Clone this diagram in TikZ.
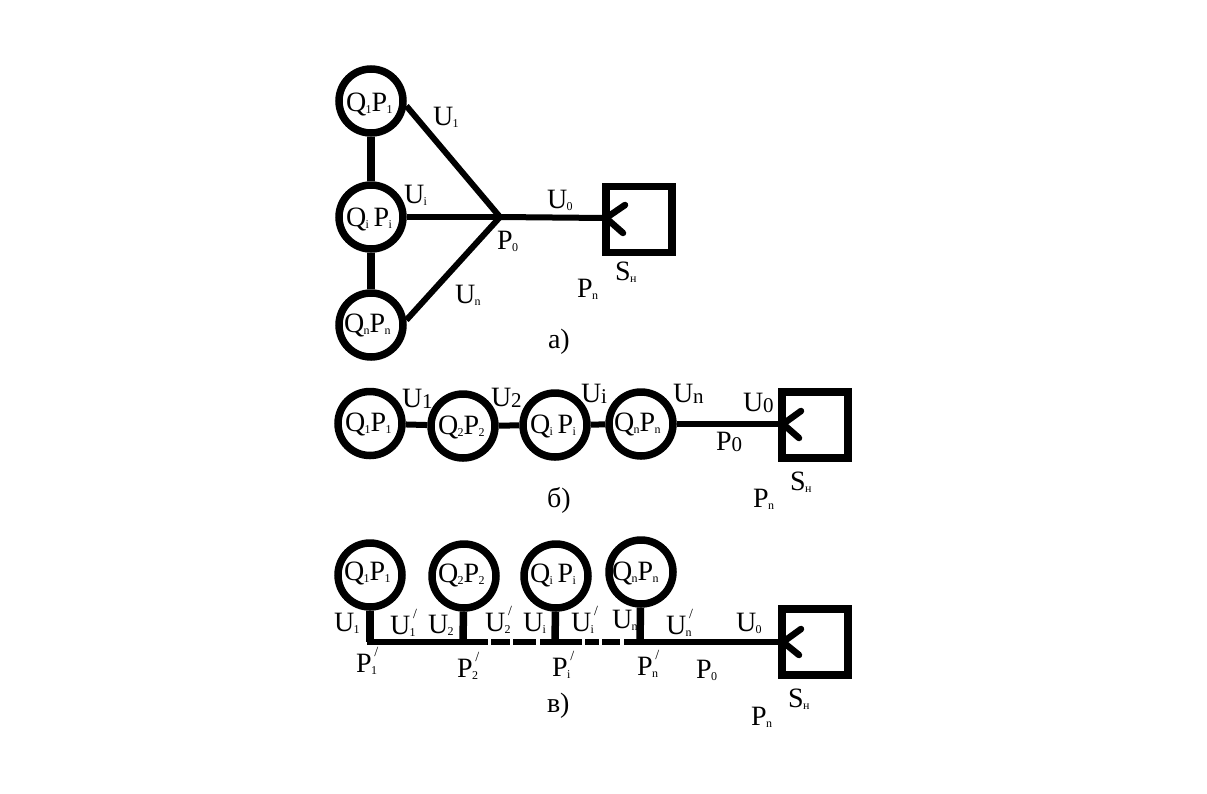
\documentclass[tikz,border=0pt]{standalone}
\usepackage{fontspec}
\setmainfont{Liberation Serif}
\newcommand\sbx[1]{\kern-.02em\raisebox{-.09em}{\fontsize{12}{12}\selectfont #1}}
\newcommand\sby[1]{\raisebox{-.06em}{\fontsize{21}{21}\selectfont #1}}
\newcommand\prx[1]{\rlap{\raisebox{.55em}{\kern.1em\fontsize{14}{14}\selectfont /}}\sbx{#1}}
\newcommand\lab[4]{\node[lbl] (#1) at (#2,#3) {#4};}
\tikzset{
  lbl/.style={anchor=base west,inner sep=0pt,outer sep=0pt,font=\fontsize{28}{28}\selectfont},
  gen/.style={circle,draw=black,line width=7.5pt,minimum size=64pt,inner sep=0pt,fill=white},
  load/.style={rectangle,draw=black,line width=7.5pt,minimum size=66pt,inner sep=0pt},
  wire/.style={line width=6pt,black},
  tick/.style={line width=6.5pt,black,line cap=round},
  thickwire/.style={line width=7.5pt,black}
}
\begin{document}
\begin{tikzpicture}[x=1pt,y=-1pt]
\useasboundingbox (0,0) rectangle (1207,793);
% --- a ---
\node[gen] (a1) at (371,101) {};
\node[gen] (a2) at (371,217) {};
\node[gen] (a3) at (371,325) {};
\node[load] (as) at (639,219.5) {};
\coordinate (aj) at (500,217);
\coordinate (at) at (606,218);
\coordinate (au) at (625,205);
\coordinate (ad) at (623,233);
\draw[thickwire] (a1) -- (a2);
\draw[thickwire] (a2) -- (a3);
\draw[wire] (a1.-8) -- (aj);
\draw[wire] (a2) -- (aj);
\draw[wire] (a3.8) -- (aj);
\draw[wire] (aj) -- (at);
\draw[tick] (at) -- (au);
\draw[tick] (at) -- (ad);
\lab{aq1}{346}{111}{Q\sbx{1}P\sbx{1}}
\lab{aq2}{346}{226}{Q\sbx{i}\,P\sbx{i}}
\lab{aq3}{344}{332}{Q\sbx{n}P\sbx{n}}
\lab{au1}{433}{125}{U\sbx{1}}
\lab{aui}{404}{203}{U\sbx{i}}
\lab{au0}{547}{208}{U\sbx{0}}
\lab{ap0}{497}{249}{P\sbx{0}}
\lab{aun}{455}{303}{U\sbx{n}}
\lab{asn}{615}{280}{S\sbx{н}}
\lab{apn}{577}{297}{P\sbx{n}}
\lab{acap}{548}{348}{а)}
% --- b ---
\node[gen] (b1) at (370,423.5) {};
\node[gen] (b2) at (463,426) {};
\node[gen] (b3) at (555,425) {};
\node[gen] (b4) at (641,424) {};
\node[load] (bs) at (815,425) {};
\coordinate (bt) at (783,424);
\coordinate (bu) at (801,411);
\coordinate (bd) at (799,438);
\draw[wire] (b1) -- (b2);
\draw[wire] (b2) -- (b3);
\draw[wire] (b3) -- (b4);
\draw[wire] (b4) -- (bt);
\draw[tick] (bt) -- (bu);
\draw[tick] (bt) -- (bd);
\lab{bq1}{345}{431}{Q\sbx{1}P\sbx{1}}
\lab{bq2}{438}{434}{Q\sbx{2}P\sbx{2}}
\lab{bq3}{530}{433}{Q\sbx{i}\,P\sbx{i}}
\lab{bq4}{614}{431}{Q\sbx{n}P\sbx{n}}
\lab{bu1}{402}{407}{U\sby{1}}
\lab{bu2}{491}{406}{U\sby{2}}
\lab{bui}{581}{402}{U\sby{i}}
\lab{bun}{673}{402}{U\sby{n}}
\lab{bu0}{743}{411}{U\sby{0}}
\lab{bp0}{716}{450}{P\sby{0}}
\lab{bsn}{790}{490}{S\sbx{н}}
\lab{bpn}{753}{507}{P\sbx{n}}
\lab{bcap}{547}{507}{б)}
% --- c ---
\node[gen] (c1) at (370,575) {};
\node[gen] (c2) at (464,576) {};
\node[gen] (c3) at (556,576) {};
\node[gen] (c4) at (641,572) {};
\node[load] (cs) at (815,642) {};
\coordinate (j1) at (370,642);
\coordinate (j2) at (463,642);
\coordinate (j3) at (555,642);
\coordinate (j4) at (640,642);
\coordinate (ct) at (783,642);
\coordinate (cu) at (801,629);
\coordinate (cd) at (799,655);
\draw[thickwire] (c1) -- (j1);
\draw[thickwire] (c2) -- (j2);
\draw[thickwire] (c3) -- (j3);
\draw[thickwire] (c4) -- (j4);
\draw[wire] ([xshift=-3pt]j1) -- (j2);
\draw[wire] (j2) -- +(25,0);
\draw[wire] (j2) ++(28,0) -- +(19,0);
\draw[wire] (j2) ++(50,0) -- +(23,0);
\draw[wire] (j3) ++(-15,0) -- +(42,0);
\draw[wire] (j3) ++(30,0) -- +(14,0);
\draw[wire] (j3) ++(47,0) -- +(18,0);
\draw[wire] (j4) ++(-16,0) -- (ct);
\draw[tick] (ct) -- (cu);
\draw[tick] (ct) -- (cd);
\lab{cq1}{344}{580}{Q\sbx{1}P\sbx{1}}
\lab{cq2}{438}{582}{Q\sbx{2}P\sbx{2}}
\lab{cq3}{530}{582}{Q\sbx{i}\,P\sbx{i}}
\lab{cq4}{612}{580}{Q\sbx{n}P\sbx{n}}
\lab{cu1}{334}{631}{U\sbx{1}}
\lab{cv1}{390}{634}{U\prx{1}}
\lab{cu2}{428}{633}{U\sbx{2}}
\lab{cv2}{485}{631}{U\prx{2}}
\lab{cui}{523}{631}{U\sbx{i}}
\lab{cvi}{571}{631}{U\prx{i}}
\lab{cun}{612}{628}{U\sbx{n}}
\lab{cvn}{666}{634}{U\prx{n}}
\lab{cu0}{736}{631}{U\sbx{0}}
\lab{cp1}{356}{672}{P\prx{1}}
\lab{cp2}{457}{677}{P\prx{2}}
\lab{cpi}{552}{676}{P\prx{i}}
\lab{cpn}{637}{675}{P\prx{n}}
\lab{cp0}{696}{678}{P\sbx{0}}
\lab{csn}{788}{707}{S\sbx{н}}
\lab{cpp}{751}{725}{P\sbx{n}}
\lab{ccap}{547}{712}{в)}
\end{tikzpicture}
\end{document}
